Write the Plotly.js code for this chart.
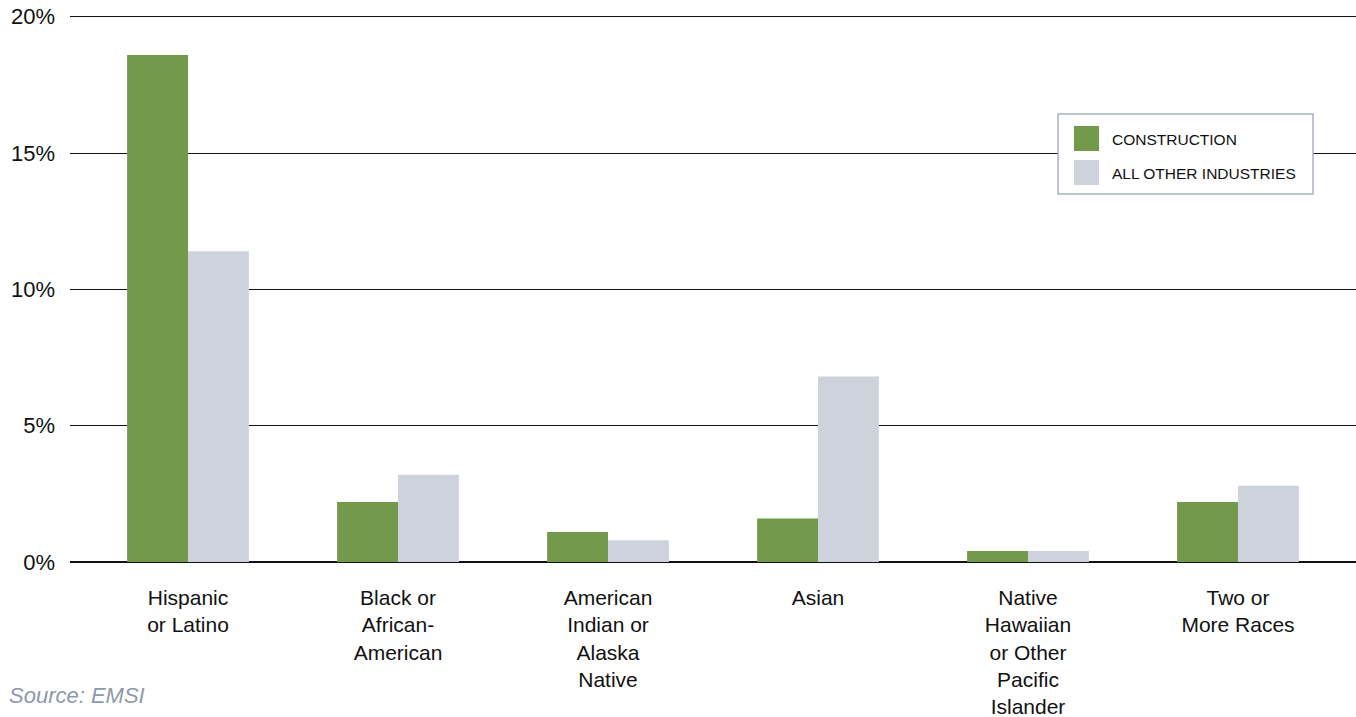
<!DOCTYPE html>
<html>
<head>
<meta charset="utf-8">
<script src="https://cdn.plot.ly/plotly-3.0.1.min.js"></script>
<style>
html,body{margin:0;padding:0;background:#fff;}
#chart{width:1356px;height:717px;}
</style>
</head>
<body>
<div id="chart"></div>
<script>
const categories = [
  "Hispanic<br>or Latino",
  "Black or<br>African-<br>American",
  "American<br>Indian or<br>Alaska<br>Native",
  "Asian",
  "Native<br>Hawaiian<br>or Other<br>Pacific<br>Islander",
  "Two or<br>More Races"
];
const seriesNames = ["CONSTRUCTION", "ALL OTHER INDUSTRIES"];
const construction = [18.6, 2.2, 1.1, 1.6, 0.4, 2.2];
const allOther = [11.4, 3.2, 0.8, 6.8, 0.4, 2.8];
const colors = ["#739a4a", "#ced2dc"];
const yTickVals = [0, 5, 10, 15, 20];
const yTickText = ["0%", "5%", "10%", "15%", "20%"];
const sourceText = "Source: EMSI";

const font = "Liberation Sans, Arial, sans-serif";
const xIdx = categories.map((c, i) => i);

const traces = [
  {type: "bar", x: xIdx, y: construction, name: seriesNames[0], marker: {color: colors[0]}, hoverinfo: "y"},
  {type: "bar", x: xIdx, y: allOther, name: seriesNames[1], marker: {color: colors[1]}, hoverinfo: "y"}
];

// paper coords: plot area now 548px tall starting at y=14
const H = 548, T = 14;
const py = p => (717 - 155 - p) / H;
const shapes = [
  {type: "rect", xref: "paper", yref: "paper", x0: 0.7683, x1: 0.9666, y0: py(194), y1: py(114),
   line: {color: "#a9b1c2", width: 1.5}, fillcolor: "#ffffff", layer: "above"},
  {type: "rect", xref: "paper", yref: "paper", x0: 0.7807, x1: 0.8002, y0: py(151), y1: py(126),
   line: {width: 0}, fillcolor: colors[0], layer: "above"},
  {type: "rect", xref: "paper", yref: "paper", x0: 0.7807, x1: 0.8002, y0: py(185), y1: py(160),
   line: {width: 0}, fillcolor: colors[1], layer: "above"}
];
const annotations = [
  {xref: "paper", yref: "paper", x: 0.809, y: py(139), xanchor: "left", yanchor: "middle",
   text: seriesNames[0], showarrow: false, font: {family: font, size: 15.5, color: "#111"}},
  {xref: "paper", yref: "paper", x: 0.809, y: py(173), xanchor: "left", yanchor: "middle",
   text: seriesNames[1], showarrow: false, font: {family: font, size: 15.5, color: "#111"}},
  {xref: "paper", yref: "paper", x: -0.049, y: py(695), xanchor: "left", yanchor: "middle",
   text: "<i>" + sourceText + "</i>", showarrow: false, font: {family: font, size: 22, color: "#8f99ab"}}
];

const layout = {
  width: 1356, height: 717,
  margin: {l: 70, r: 0, t: T, b: 155},
  paper_bgcolor: "#fff", plot_bgcolor: "#fff",
  showlegend: false,
  barmode: "group",
  bargap: 0.42,
  bargroupgap: 0,
  font: {family: font, color: "#111"},
  xaxis: {
    range: [-0.562, 5.562],
    tickvals: xIdx, ticktext: categories,
    showgrid: false, zeroline: false, showline: false,
    ticks: "", ticklabelstandoff: 21,
    tickfont: {family: font, size: 21, color: "#111"},
    fixedrange: true
  },
  yaxis: {
    range: [0, 20.1],
    tickvals: yTickVals, ticktext: yTickText,
    showgrid: true, gridcolor: "#111", gridwidth: 1,
    zeroline: true, zerolinecolor: "#111", zerolinewidth: 1.5,
    showline: false, ticks: "", ticklabelstandoff: 14,
    tickfont: {family: font, size: 22, color: "#111"},
    fixedrange: true
  },
  shapes: shapes,
  annotations: annotations
};

Plotly.newPlot("chart", traces, layout, {displayModeBar: false, staticPlot: true});
</script>
</body>
</html>
